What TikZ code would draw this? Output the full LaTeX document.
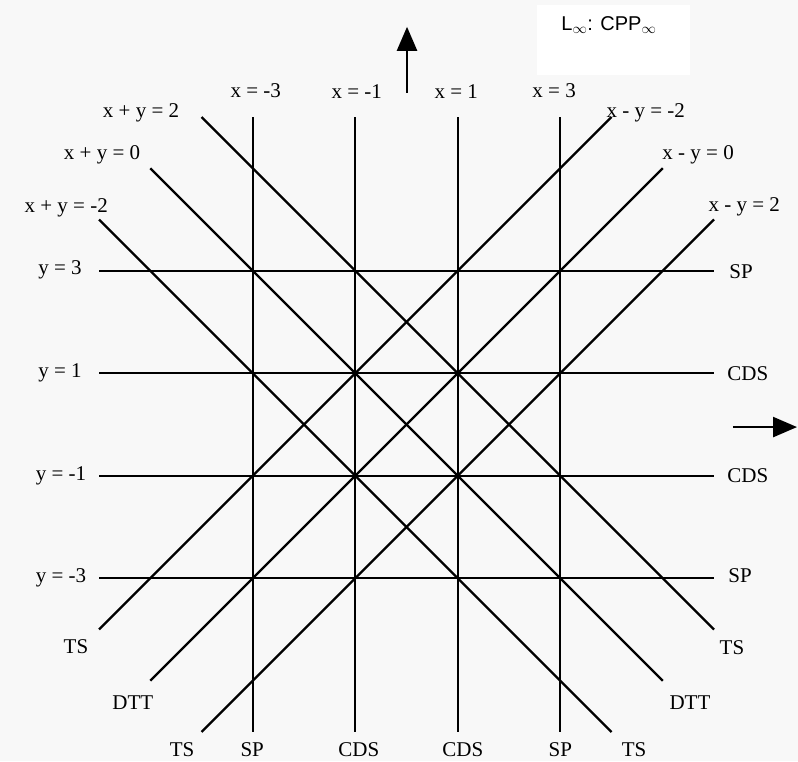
\documentclass[tikz,border=0pt]{standalone}
\usepackage{fontspec}
\setmainfont{Liberation Serif}
\setsansfont{Liberation Sans}
\usetikzlibrary{arrows.meta}
\definecolor{bgcol}{RGB}{248,248,248}
\begin{document}
\begin{tikzpicture}[x=51.25pt,y=51.25pt,
  gridline/.style={line width=2.4pt,black},
  lbl/.style={inner sep=0pt,font=\fontsize{21}{25}\selectfont},
  axisarrow/.style={line width=2.4pt,-{Triangle[length=24pt,width=20pt]}}]
\fill[bgcol] (-7.932,-6.566) rectangle (7.639,8.283);
\useasboundingbox (-7.932,-6.566) rectangle (7.639,8.283);
\fill[white] (2.55,6.82) rectangle (5.53,8.19);
% coordinates
\foreach \i/\v in {1/-3,2/-1,3/1,4/3}{
  \coordinate (vt\i) at (\v,6);
  \coordinate (vb\i) at (\v,-6);
  \coordinate (hl\i) at (-6,\v);
  \coordinate (hr\i) at (6,\v);
}
\coordinate (p1s) at (-4,6);  \coordinate (p1e) at (6,-4);
\coordinate (p2s) at (-5,5);  \coordinate (p2e) at (5,-5);
\coordinate (p3s) at (-6,4);  \coordinate (p3e) at (4,-6);
\coordinate (m1s) at (-6,-4); \coordinate (m1e) at (4,6);
\coordinate (m2s) at (-5,-5); \coordinate (m2e) at (5,5);
\coordinate (m3s) at (-4,-6); \coordinate (m3e) at (6,4);
\coordinate (upS) at (0.01,6.47); \coordinate (upE) at (0.01,7.76);
\coordinate (rtS) at (6.37,-0.05); \coordinate (rtE) at (7.62,-0.05);
% lines
\foreach \i in {1,2,3,4}{
  \draw[gridline] (vt\i) -- (vb\i);
  \draw[gridline] (hl\i) -- (hr\i);
}
\foreach \n in {p1,p2,p3,m1,m2,m3}{
  \draw[gridline] (\n s) -- (\n e);
}
\draw[axisarrow] (upS) -- (upE);
\draw[axisarrow] (rtS) -- (rtE);
% labels top
\node[lbl] (lx1) at (-2.94,6.51) {x = -3};
\node[lbl] (lx2) at (-0.97,6.49) {x = -1};
\node[lbl] (lx3) at (0.97,6.49) {x = 1};
\node[lbl] (lx4) at (2.88,6.51) {x = 3};
\node[lbl] (lp1) at (-5.18,6.08) {x + y = 2};
\node[lbl] (lp2) at (-5.94,5.26) {x + y = 0};
\node[lbl] (lp3) at (-6.64,4.22) {x + y = -2};
\node[lbl] (lm1) at (4.67,6.08) {x - y = -2};
\node[lbl] (lm2) at (5.69,5.26) {x - y = 0};
\node[lbl] (lm3) at (6.59,4.24) {x - y = 2};
% labels left
\node[lbl] (ly4) at (-6.76,3.01) {y = 3};
\node[lbl] (ly3) at (-6.76,1.00) {y = 1};
\node[lbl] (ly2) at (-6.74,-1.00) {y = -1};
\node[lbl] (ly1) at (-6.74,-2.99) {y = -3};
% labels right
\node[lbl] (r4) at (6.53,2.98) {SP};
\node[lbl] (r3) at (6.66,0.99) {CDS};
\node[lbl] (r2) at (6.66,-0.99) {CDS};
\node[lbl] (r1) at (6.51,-2.94) {SP};
\node[lbl] (rts) at (6.35,-4.36) {TS};
\node[lbl] (rdtt) at (5.53,-5.43) {DTT};
% labels bottom
\node[lbl] (bts2) at (4.44,-6.35) {TS};
\node[lbl] (bsp2) at (3.0,-6.35) {SP};
\node[lbl] (bcds2) at (1.10,-6.35) {CDS};
\node[lbl] (bcds1) at (-0.93,-6.35) {CDS};
\node[lbl] (bsp1) at (-3.01,-6.35) {SP};
\node[lbl] (bts1) at (-4.38,-6.35) {TS};
\node[lbl] (ldtt) at (-5.34,-5.43) {DTT};
\node[lbl] (lts) at (-6.45,-4.34) {TS};
% title
\node[lbl,font=\sffamily\fontsize{20}{24}\selectfont] (title) at (3.95,7.80) {L$_\infty$: CPP$_\infty$};
\end{tikzpicture}
\end{document}
